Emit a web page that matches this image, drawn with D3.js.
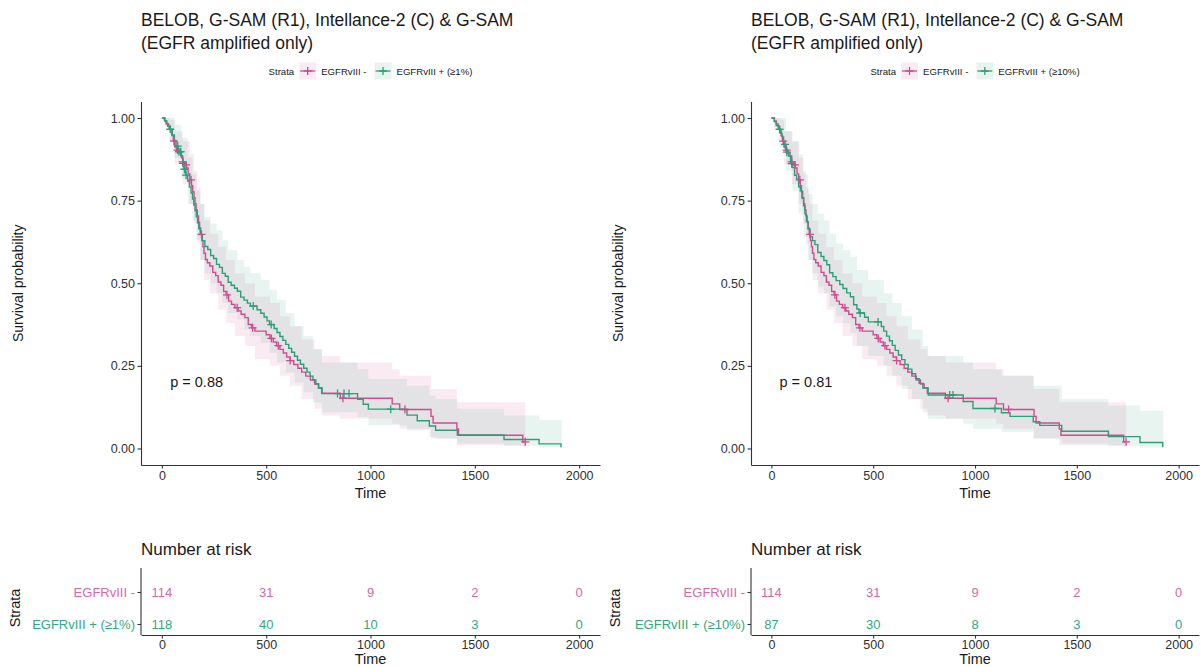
<!DOCTYPE html>
<html>
<head>
<meta charset="utf-8">
<script src="https://cdn.jsdelivr.net/npm/d3@7"></script>
<style>
  body { margin: 0; background: #fff; }
  svg { display: block; }
  text { font-family: "Liberation Sans", Arial, Helvetica, sans-serif; }
</style>
</head>
<body>
<svg id="chart" width="1201" height="667"></svg>
<script>
// ---- axis breaks and labels ----
const timeTicks = [0, 500, 1000, 1500, 2000];
const survTicks = [0, 0.25, 0.5, 0.75, 1];
const survTickLabels = ["0.00", "0.25", "0.50", "0.75", "1.00"];
const riskTimes = [0, 500, 1000, 1500, 2000];

const titleLines = ["BELOB, G-SAM (R1), Intellance-2 (C) & G-SAM", "(EGFR amplified only)"];
const strataNames = ["EGFRvIII -", "EGFRvIII + (\u22651%)", "EGFRvIII + (\u226510%)"];
const pValues = ["p = 0.88", "p = 0.81"];

// ---- EGFRvIII - : Kaplan-Meier steps [time, survival] ----
const negSteps = [
  [0, 1.000], [15, 0.991], [24, 0.982], [33, 0.974], [41, 0.965], [48, 0.947], [55, 0.930],
  [62, 0.912], [70, 0.903], [80, 0.894], [92, 0.885], [100, 0.867], [110, 0.858], [118, 0.849],
  [126, 0.831], [134, 0.813], [142, 0.795], [148, 0.777], [154, 0.759], [159, 0.741], [164, 0.722],
  [170, 0.704], [176, 0.685], [181, 0.667], [186, 0.648], [192, 0.629], [197, 0.610], [202, 0.591],
  [209, 0.572], [218, 0.562], [230, 0.552], [244, 0.533], [258, 0.523], [270, 0.504], [283, 0.494],
  [296, 0.475], [308, 0.465], [320, 0.446], [334, 0.436], [350, 0.426], [366, 0.416], [380, 0.406],
  [398, 0.396], [414, 0.375], [430, 0.365], [446, 0.355], [500, 0.344], [518, 0.333], [534, 0.322],
  [550, 0.311], [566, 0.300], [582, 0.289], [598, 0.277], [614, 0.266], [632, 0.254], [652, 0.243],
  [670, 0.231], [690, 0.219], [712, 0.207], [732, 0.195], [750, 0.183], [766, 0.167], [855, 0.152],
  [1104, 0.135], [1140, 0.118], [1290, 0.097], [1300, 0.077], [1414, 0.059], [1422, 0.040],
  [1730, 0.020]
];
const negEnd = 1742;
const negCensor = [58, 75, 100, 116, 140, 190, 312, 361, 435, 525, 558, 615, 868, 1165, 1742];
// confidence band steps [time, lower, upper]
const negBand = [
  [0, 1.0, 1.0], [15, 0.974, 1.0], [41, 0.93, 0.995], [62, 0.86, 0.96], [100, 0.80, 0.93],
  [134, 0.74, 0.89], [154, 0.68, 0.84], [170, 0.62, 0.79], [186, 0.57, 0.74], [202, 0.51, 0.69],
  [230, 0.47, 0.65], [270, 0.42, 0.61], [308, 0.38, 0.57], [350, 0.34, 0.53], [398, 0.31, 0.50],
  [446, 0.27, 0.46], [518, 0.25, 0.44], [566, 0.22, 0.40], [614, 0.19, 0.37], [670, 0.15, 0.33],
  [732, 0.12, 0.30], [766, 0.10, 0.28], [855, 0.09, 0.26], [1104, 0.075, 0.24], [1140, 0.06, 0.22],
  [1290, 0.03, 0.18], [1414, 0.01, 0.14], [1730, 0.003, 0.14]
];
const negRisk = [114, 31, 9, 2, 0];

// ---- EGFRvIII + (>=1%) ----
const pos1Steps = [
  [0, 1.000], [12, 0.992], [20, 0.983], [28, 0.975], [35, 0.966], [50, 0.949], [60, 0.932],
  [68, 0.915], [78, 0.898], [94, 0.880], [100, 0.863], [106, 0.845], [114, 0.827], [124, 0.809],
  [132, 0.791], [140, 0.773], [147, 0.755], [153, 0.737], [159, 0.719], [165, 0.701], [171, 0.683],
  [177, 0.665], [184, 0.647], [194, 0.629], [206, 0.611], [220, 0.602], [234, 0.584], [248, 0.575],
  [262, 0.557], [276, 0.548], [290, 0.530], [304, 0.521], [318, 0.503], [332, 0.494], [348, 0.485],
  [362, 0.476], [378, 0.458], [394, 0.449], [410, 0.440], [424, 0.431], [456, 0.420], [474, 0.409],
  [490, 0.398], [504, 0.386], [516, 0.375], [538, 0.363], [552, 0.351], [566, 0.339], [580, 0.327],
  [594, 0.315], [608, 0.303], [622, 0.291], [636, 0.279], [650, 0.267], [664, 0.255], [680, 0.243],
  [696, 0.231], [710, 0.219], [724, 0.207], [738, 0.195], [752, 0.183], [768, 0.166], [938, 0.149],
  [965, 0.134], [990, 0.119], [1175, 0.101], [1224, 0.084], [1282, 0.068], [1312, 0.055],
  [1416, 0.041], [1640, 0.027], [1808, 0.014], [1913, 0.006]
];
const pos1End = 1916;
const pos1Censor = [40, 76, 82, 90, 101, 108, 116, 438, 524, 842, 873, 897, 1097];
const pos1Band = [
  [0, 1, 1], [12, 0.975, 1.0], [35, 0.93, 1.0], [60, 0.88, 0.98], [94, 0.82, 0.94], [124, 0.74, 0.88],
  [147, 0.69, 0.83], [165, 0.63, 0.78], [184, 0.57, 0.74], [206, 0.53, 0.70], [234, 0.50, 0.68],
  [262, 0.47, 0.66], [290, 0.44, 0.63], [318, 0.41, 0.60], [362, 0.39, 0.57], [394, 0.36, 0.55],
  [424, 0.34, 0.53], [474, 0.32, 0.51], [516, 0.29, 0.48], [552, 0.26, 0.45], [594, 0.23, 0.41],
  [636, 0.20, 0.37], [680, 0.17, 0.34], [724, 0.14, 0.30], [768, 0.11, 0.26], [938, 0.095, 0.24],
  [990, 0.07, 0.21], [1175, 0.055, 0.19], [1282, 0.035, 0.16], [1312, 0.03, 0.15], [1416, 0.015, 0.12],
  [1640, 0.008, 0.10], [1808, 0.003, 0.086]
];
const pos1Risk = [118, 40, 10, 3, 0];

// ---- EGFRvIII + (>=10%) ----
const pos10Steps = [
  [0, 1.000], [14, 0.989], [24, 0.977], [34, 0.966], [44, 0.954], [52, 0.943], [60, 0.920],
  [72, 0.897], [84, 0.885], [94, 0.862], [104, 0.850], [114, 0.827], [124, 0.815], [134, 0.792],
  [142, 0.780], [150, 0.757], [158, 0.734], [165, 0.710], [172, 0.687], [180, 0.664], [190, 0.641],
  [202, 0.629], [214, 0.617], [228, 0.593], [244, 0.581], [258, 0.569], [272, 0.556], [286, 0.532],
  [302, 0.520], [318, 0.508], [336, 0.496], [352, 0.484], [370, 0.471], [388, 0.459], [404, 0.435],
  [420, 0.422], [430, 0.410], [458, 0.397], [476, 0.383], [540, 0.369], [552, 0.355], [566, 0.340],
  [580, 0.326], [594, 0.312], [608, 0.297], [624, 0.283], [640, 0.269], [656, 0.254], [672, 0.240],
  [690, 0.226], [708, 0.211], [726, 0.197], [744, 0.183], [770, 0.162], [942, 0.142], [990, 0.121],
  [1130, 0.108], [1172, 0.097], [1286, 0.081], [1318, 0.070], [1426, 0.052], [1655, 0.036],
  [1810, 0.018], [1922, 0.006]
];
const pos10End = 1925;
const pos10Censor = [40, 67, 76, 100, 436, 524, 876, 892, 1098];
const pos10Band = [
  [0, 1, 1], [14, 0.97, 1.0], [44, 0.91, 1.0], [72, 0.84, 0.96], [104, 0.78, 0.93], [134, 0.71, 0.88],
  [158, 0.64, 0.83], [180, 0.57, 0.77], [202, 0.53, 0.74], [228, 0.49, 0.71], [258, 0.47, 0.69],
  [286, 0.43, 0.65], [318, 0.40, 0.62], [352, 0.38, 0.60], [388, 0.35, 0.58], [420, 0.31, 0.54],
  [476, 0.28, 0.51], [552, 0.25, 0.47], [594, 0.22, 0.44], [640, 0.18, 0.40], [690, 0.15, 0.36],
  [744, 0.11, 0.31], [770, 0.09, 0.28], [942, 0.075, 0.26], [990, 0.06, 0.24], [1130, 0.05, 0.22],
  [1286, 0.03, 0.19], [1426, 0.015, 0.15], [1655, 0.008, 0.13], [1810, 0.003, 0.114]
];
const pos10Risk = [87, 30, 8, 3, 0];

// ---- styling ----
const PINK = "#CF4C91";
const GREEN = "#2F9D79";
const PINK_TEXT = "#D46BA6";
const GREEN_TEXT = "#33A781";
const AXIS = "#333333";
const BAND_OPACITY = 0.11;

const svg = d3.select("#chart");

function survAt(steps, t) {
  let s = steps[0][1];
  for (const d of steps) { if (d[0] <= t) s = d[1]; else break; }
  return s;
}

function drawPanel(cfg) {
  const g = svg.append("g");
  const x = d3.scaleLinear().domain([-100, 2100]).range([cfg.left, cfg.right]);
  const y = d3.scaleLinear().domain([-0.05, 1.05]).range([465, 101.5]);
  const midX = (cfg.left + cfg.right) / 2;

  const strata = [
    { name: strataNames[0], color: PINK, text: PINK_TEXT, steps: negSteps, end: negEnd, censor: negCensor, band: negBand, risk: negRisk },
    { name: cfg.posName, color: GREEN, text: GREEN_TEXT, steps: cfg.posSteps, end: cfg.posEnd, censor: cfg.posCensor, band: cfg.posBand, risk: cfg.posRisk }
  ];

  // title
  const title = g.append("text").attr("x", cfg.left).attr("y", 26)
    .attr("font-size", 17.5).attr("fill", "#1a1a1a");
  titleLines.forEach((t, i) => title.append("tspan").attr("x", cfg.left).attr("dy", i ? 23 : 0).text(t));

  // legend
  const leg = g.append("g");
  let cx = 0;
  const legY = 71;
  const lt = leg.append("text").attr("x", cx).attr("y", legY + 3.5).attr("font-size", 9.6).attr("fill", "#1a1a1a").text("Strata");
  cx += lt.node().getComputedTextLength() + 5;
  strata.forEach((s, i) => {
    leg.append("rect").attr("x", cx).attr("y", legY - 8.5).attr("width", 17).attr("height", 17)
      .attr("fill", s.color).attr("fill-opacity", BAND_OPACITY);
    leg.append("line").attr("x1", cx + 1).attr("x2", cx + 16).attr("y1", legY).attr("y2", legY)
      .attr("stroke", s.color).attr("stroke-width", 1.3);
    leg.append("path").attr("d", `M${cx + 4.5},${legY}H${cx + 12.5}M${cx + 8.5},${legY - 4}V${legY + 4}`)
      .attr("stroke", s.color).attr("stroke-width", 1.3);
    cx += 17 + 5;
    const tx = leg.append("text").attr("x", cx).attr("y", legY + 3.5).attr("font-size", 9.6)
      .attr("fill", "#1a1a1a").text(s.name);
    cx += tx.node().getComputedTextLength() + (i === 0 ? 8 : 0);
  });
  leg.attr("transform", `translate(${midX - cx / 2},0)`);

  // confidence ribbons
  const area = d3.area().x(d => x(d[0])).y0(d => y(d[1])).y1(d => y(d[2])).curve(d3.curveStepAfter);
  strata.forEach(s => {
    const last = s.band[s.band.length - 1];
    g.append("path").datum(s.band.concat([[s.end, last[1], last[2]]]))
      .attr("d", area).attr("fill", s.color).attr("fill-opacity", BAND_OPACITY);
  });

  // survival curves
  const line = d3.line().x(d => x(d[0])).y(d => y(d[1])).curve(d3.curveStepAfter);
  strata.forEach(s => {
    const last = s.steps[s.steps.length - 1];
    g.append("path").datum(s.steps.concat([[s.end, last[1]]]))
      .attr("d", line).attr("fill", "none").attr("stroke", s.color).attr("stroke-width", 1.4);
  });

  // censor marks
  strata.forEach(s => {
    g.append("g").selectAll("path").data(s.censor).join("path")
      .attr("transform", t => `translate(${x(t)},${y(survAt(s.steps, t))})`)
      .attr("d", "M-4,0H4M0,-4V4").attr("stroke", s.color).attr("stroke-width", 1.3).attr("fill", "none");
  });

  // p-value
  g.append("text").attr("x", x(40)).attr("y", y(0.2) + 5).attr("font-size", 14.5)
    .attr("fill", "#1a1a1a").text(cfg.pValue);

  // axes
  const yAxis = d3.axisLeft(y).tickValues(survTicks).tickFormat((d, i) => survTickLabels[i])
    .tickSizeInner(3.5).tickSizeOuter(0).tickPadding(2.5);
  const xAxis = d3.axisBottom(x).tickValues(timeTicks).tickFormat(d3.format("d"))
    .tickSizeInner(3.5).tickSizeOuter(0).tickPadding(3);
  const ya = g.append("g").attr("transform", `translate(${cfg.left},0)`).call(yAxis);
  const xa = g.append("g").attr("transform", "translate(0,465)").call(xAxis);
  [ya, xa].forEach(a => {
    a.select(".domain").attr("stroke", AXIS).attr("stroke-width", 1.1);
    a.selectAll(".tick line").attr("stroke", AXIS).attr("stroke-width", 1.1);
    a.selectAll(".tick text").attr("font-size", 12.5).attr("fill", "#303030")
      .attr("font-family", "Liberation Sans, Arial, sans-serif");
  });

  g.append("text").attr("x", midX).attr("y", 498).attr("text-anchor", "middle")
    .attr("font-size", 14.5).attr("fill", "#1a1a1a").text("Time");
  g.append("text").attr("transform", `translate(${cfg.x0 + 23},${(101.5 + 465) / 2}) rotate(-90)`)
    .attr("text-anchor", "middle").attr("font-size", 14).attr("fill", "#1a1a1a").text("Survival probability");

  // ---- number at risk table ----
  const rt = svg.append("g");
  const rTop = 568, rBottom = 635;
  const ry = d3.scalePoint().domain(strata.map(s => s.name)).range([592, 624]);
  rt.append("text").attr("x", cfg.left).attr("y", 555).attr("font-size", 17)
    .attr("fill", "#1a1a1a").text("Number at risk");

  strata.forEach(s => {
    rt.append("g").selectAll("text").data(s.risk).join("text")
      .attr("x", (d, i) => x(riskTimes[i])).attr("y", ry(s.name) + 4.5)
      .attr("text-anchor", "middle").attr("font-size", 13).attr("fill", s.text).text(d => d);
  });

  const ryAxis = d3.axisLeft(ry).tickSizeInner(3.5).tickSizeOuter(0).tickPadding(2.5);
  const rya = rt.append("g").attr("transform", `translate(${cfg.left},0)`).call(ryAxis);
  rya.select(".domain").attr("d", `M0,${rTop}V${rBottom}`).attr("stroke", AXIS).attr("stroke-width", 1.1);
  rya.selectAll(".tick line").attr("stroke", AXIS).attr("stroke-width", 1.1);
  rya.selectAll(".tick text").attr("font-size", 13)
    .attr("font-family", "Liberation Sans, Arial, sans-serif")
    .attr("fill", d => strata.find(s => s.name === d).text);

  const rxAxis = d3.axisBottom(x).tickValues(timeTicks).tickFormat(d3.format("d"))
    .tickSizeInner(3.5).tickSizeOuter(0).tickPadding(2);
  const rxa = rt.append("g").attr("transform", `translate(0,${rBottom})`).call(rxAxis);
  rxa.select(".domain").attr("stroke", AXIS).attr("stroke-width", 1.1);
  rxa.selectAll(".tick line").attr("stroke", AXIS).attr("stroke-width", 1.1);
  rxa.selectAll(".tick text").attr("font-size", 12.5).attr("fill", "#303030")
    .attr("font-family", "Liberation Sans, Arial, sans-serif");

  rt.append("text").attr("x", midX).attr("y", 664).attr("text-anchor", "middle")
    .attr("font-size", 14.5).attr("fill", "#1a1a1a").text("Time");
  rt.append("text").attr("transform", `translate(${cfg.x0 + 20},${(592 + 624) / 2}) rotate(-90)`)
    .attr("text-anchor", "middle").attr("font-size", 14.5).attr("fill", "#1a1a1a").text("Strata");
}

drawPanel({
  x0: 0, left: 141, right: 600, posName: strataNames[1], posSteps: pos1Steps, posEnd: pos1End,
  posCensor: pos1Censor, posBand: pos1Band, posRisk: pos1Risk, pValue: pValues[0]
});
drawPanel({
  x0: 600, left: 751, right: 1199, posName: strataNames[2], posSteps: pos10Steps, posEnd: pos10End,
  posCensor: pos10Censor, posBand: pos10Band, posRisk: pos10Risk, pValue: pValues[1]
});
</script>
</body>
</html>
